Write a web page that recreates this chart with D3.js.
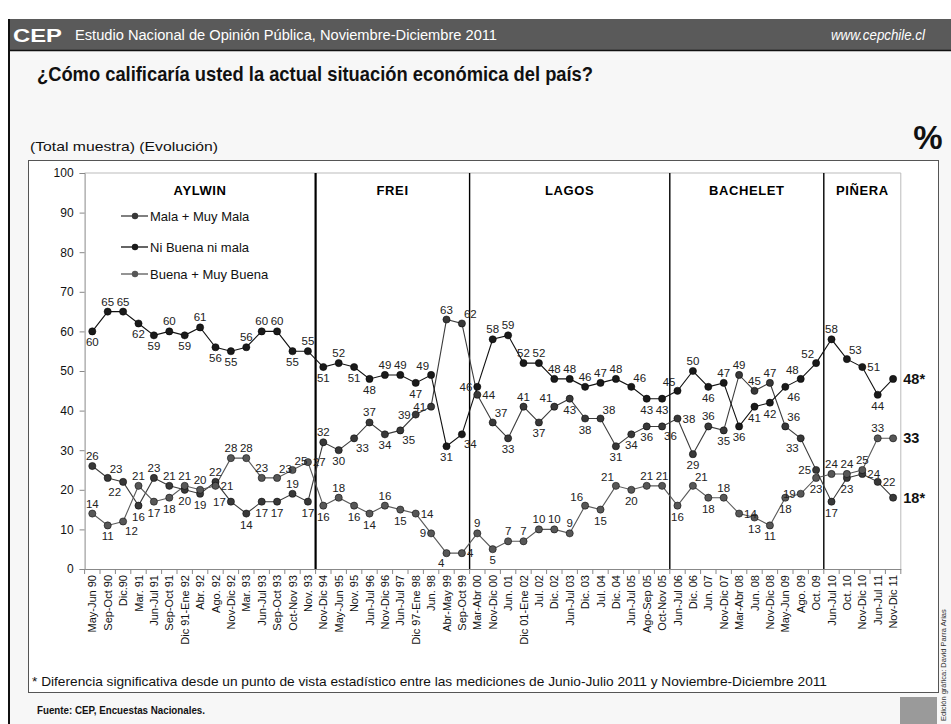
<!DOCTYPE html>
<html><head><meta charset="utf-8">
<script src="https://cdn.jsdelivr.net/npm/d3@7"></script>
<style>
body{margin:0;background:#fff;}
svg{display:block;font-family:"Liberation Sans",Arial,sans-serif;}
.narrow{font-family:"Liberation Sans Narrow","Arial Narrow","Liberation Sans",Arial,sans-serif;}
</style>
</head><body>
<svg id="c" width="951" height="724"></svg>
<script>
const categories = ["May-Jun 90","Sep-Oct 90","Dic.90","Mar. 91","Jun-Jul 91","Sep-Oct 91","Dic 91-Ene 92","Abr. 92","Ago. 92","Nov-Dic 92","Mar. 93","Jun-Jul 93","Sep-Oct 93","Oct-Nov 93","Nov. 93","Nov-Dic 94","May-Jun 95","Nov. 95","Jun-Jul 96","Nov-Dic 96","Jun-Jul 97","Dic 97-Ene 98","Jun. 98","Abr-May 99","Sep-Oct 99","Mar-Abr 00","Nov-Dic 00","Jun. 01","Dic 01-Ene 02","Jul. 02","Dic. 02","Jun-Jul 03","Dic. 03","Jul. 04","Dic. 04","Jun-Jul 05","Ago-Sep 05","Oct-Nov 05","Jun-Jul 06","Dic. 06","Jun. 07","Nov-Dic 07","Mar-Abr 08","Jun. 08","Nov-Dic 08","May-Jun 09","Ago. 09","Oct. 09","Jun-Jul 10","Oct. 10","Nov-Dic 10","Jun-Jul 11","Nov-Dic 11"];

const niBuenaNiMala = [60,65,65,62,59,60,59,61,56,55,56,60,60,55,55,51,52,51,48,49,49,47,49,31,34,46,58,59,52,52,48,48,46,47,48,46,43,43,45,50,46,47,36,41,42,46,48,52,58,53,51,44,48];
const malaMuyMala   = [26,23,22,16,23,21,20,19,22,17,14,17,17,19,17,32,30,33,37,34,35,39,41,63,62,44,37,33,41,37,41,43,38,38,31,34,36,36,38,29,36,35,49,45,47,36,33,25,17,23,24,22,18];
const buenaMuyBuena = [14,11,12,21,17,18,21,20,21,28,28,23,23,25,27,16,18,16,14,16,15,14,9,4,4,9,5,7,7,10,10,9,16,15,21,20,21,21,16,21,18,18,14,13,11,18,19,23,24,24,25,33,33];

const yTicks = [0,10,20,30,40,50,60,70,80,90,100];
const periods = ["AYLWIN","FREI","LAGOS","BACHELET","PIÑERA"];
const periodStarts = ["May-Jun 90","Nov-Dic 94","Mar-Abr 00","Jun-Jul 06","Jun-Jul 10"];
const seriesNames = ["Mala + Muy Mala","Ni Buena ni mala","Buena + Muy Buena"];
const endLabels = ["18*","48*","33"];

// label placement codes (t,b,l,r,tl,tr,bl,br, e = end label)
const posNi = "b t t b b t b t b b t t t b t b t b b t t b tl b br l t t t t t t t t t tr b b tl t b t b b b br tl tl t tr r b e".split(" ");
const posMala = "t tr bl b t t b b t l b b b t b t b br t b br l l t tr r tr b t b tl b b tr b b b br r b t b t t t tr bl l b b r r e".split(" ");
const posBuena = "t b br t b b t t r t t t tr tr r b t b b t b r l bl r t b t t t t t tl b tl b t t b tr b t r b b b l b t t t t e".split(" ");

const svg = d3.select("#c");
const W = 951, H = 724;

svg.append("rect").attr("x",0).attr("y",0).attr("width",W).attr("height",H).attr("fill","#ffffff");
svg.append("rect").attr("x",9).attr("y",19).attr("width",W-9).attr("height",H-19).attr("fill","#f7f7f7");
svg.append("rect").attr("x",9).attr("y",19).attr("width",W-9).attr("height",31).attr("fill","#5a5a5a");
svg.append("line").attr("x1",9).attr("x2",W).attr("y1",50.5).attr("y2",50.5).attr("stroke","#111").attr("stroke-width",1.5);
svg.append("line").attr("x1",9).attr("x2",9).attr("y1",19).attr("y2",H).attr("stroke","#111").attr("stroke-width",2);

function fitText(sel, w){ sel.attr("textLength", w).attr("lengthAdjust","spacingAndGlyphs"); return sel; }

fitText(svg.append("text").attr("x",13).attr("y",42).attr("fill","#fff").attr("font-weight","900").attr("font-size",19).text("CEP"),49);
fitText(svg.append("text").attr("class","narrow").attr("x",75).attr("y",40).attr("fill","#fff").attr("font-size",14).text("Estudio Nacional de Opinión Pública, Noviembre-Diciembre 2011"),422);
fitText(svg.append("text").attr("class","narrow").attr("x",831).attr("y",40).attr("fill","#fff").attr("font-size",14).attr("font-style","italic").text("www.cepchile.cl"),94);

fitText(svg.append("text").attr("class","narrow").attr("x",37).attr("y",81).attr("fill","#111").attr("font-weight","bold").attr("font-size",21).text("¿Cómo calificaría usted la actual situación económica del país?"),556);
fitText(svg.append("text").attr("class","narrow").attr("x",30).attr("y",151).attr("fill","#111").attr("font-size",13).text("(Total muestra) (Evolución)"),188);
svg.append("text").attr("x",928).attr("y",149).attr("fill","#111").attr("font-weight","bold").attr("font-size",33).attr("text-anchor","middle").text("%");

svg.append("rect").attr("x",28.5).attr("y",160.5).attr("width",910).attr("height",532).attr("fill","#fff").attr("stroke","#555").attr("stroke-width",1);

const x = d3.scaleBand().domain(categories).range([84.6, 900.8]).padding(0);
const bw = x.bandwidth();
const cx = c => x(c) + bw/2;
const y = d3.scaleLinear().domain([0,100]).range([569,173]);

svg.append("line").attr("x1",x.range()[0]).attr("x2",x.range()[1]).attr("y1",y(100)).attr("y2",y(100)).attr("stroke","#bbb");
svg.append("line").attr("x1",x.range()[1]).attr("x2",x.range()[1]).attr("y1",y(100)).attr("y2",y(0)).attr("stroke","#bbb");

const yAxis = svg.append("g").attr("transform",`translate(${x.range()[0]},0)`)
  .call(d3.axisLeft(y).tickValues(yTicks).tickSize(5).tickPadding(6));
yAxis.select(".domain").attr("stroke","#888");
yAxis.selectAll(".tick line").attr("stroke","#888");
yAxis.selectAll(".tick text").attr("font-size",12).attr("fill","#111").attr("font-family","Liberation Sans, Arial, sans-serif");

const xAxis = svg.append("g").attr("transform",`translate(0,${y(0)})`)
  .call(d3.axisBottom(x).tickSize(0).tickPadding(0));
xAxis.select(".domain").attr("stroke","#888");
xAxis.selectAll(".tick text")
  .attr("font-size",11).attr("fill","#111").attr("font-family","Liberation Sans, Arial, sans-serif")
  .attr("text-anchor","end").attr("transform","translate(4,6) rotate(-90)").attr("dy","0");
const edges = categories.map(c => x(c)).concat([x.range()[1]]);
svg.append("g").selectAll("line").data(edges).join("line")
  .attr("x1",d=>d).attr("x2",d=>d).attr("y1",y(0)).attr("y2",y(0)+5).attr("stroke","#888");

const bounds = periodStarts.map(c => x(c)).concat([x.range()[1]]);
periods.forEach((p,i)=>{
  if(i>0){
    svg.append("line").attr("x1",bounds[i]).attr("x2",bounds[i]).attr("y1",y(100)).attr("y2",y(0))
      .attr("stroke","#000").attr("stroke-width", i===1?2.2:1.4);
  }
  svg.append("text").attr("x",(bounds[i]+bounds[i+1])/2).attr("y",195).attr("text-anchor","middle")
    .attr("font-weight","900").attr("font-size",13).attr("letter-spacing",0.6).attr("fill","#000").text(p);
});

const series = [
  {name:seriesNames[0], values:malaMuyMala, pos:posMala, line:"#3c3c3c", mark:"#383838", end:endLabels[0]},
  {name:seriesNames[1], values:niBuenaNiMala, pos:posNi, line:"#111", mark:"#1a1a1a", end:endLabels[1]},
  {name:seriesNames[2], values:buenaMuyBuena, pos:posBuena, line:"#5a5a5a", mark:"#575757", end:endLabels[2]}
];

const lineGen = d3.line().x((d,i)=>cx(categories[i])).y(d=>y(d));
const off = {
  t:[0,-6,"middle"], b:[0,15,"middle"], l:[-5,4,"end"], r:[5,4,"start"],
  tl:[-2,-5,"end"], tr:[2,-5,"start"], bl:[-2,14,"end"], br:[2,14,"start"]
};
const gLines = svg.append("g"), gMarks = svg.append("g"), gLabels = svg.append("g");
series.forEach(s=>{
  gLines.append("path").datum(s.values).attr("d",lineGen).attr("fill","none").attr("stroke",s.line).attr("stroke-width",1.1);
  gMarks.selectAll(null).data(s.values).join("circle")
    .attr("cx",(d,i)=>cx(categories[i])).attr("cy",d=>y(d)).attr("r",3.6)
    .attr("fill",s.mark).attr("stroke","#000").attr("stroke-width",0.5);
  s.values.forEach((v,i)=>{
    const p = s.pos[i];
    if(p==="e"){
      gLabels.append("text").attr("x",x.range()[1]+2.5).attr("y",y(v)+5).attr("font-weight","bold").attr("font-size",14.5).attr("fill","#111").text(s.end);
      return;
    }
    const o = off[p];
    gLabels.append("text").attr("x",cx(categories[i])+o[0]).attr("y",y(v)+o[1]).attr("text-anchor",o[2])
      .attr("font-size",11.5).attr("fill","#222").text(v);
  });
});

const legY = [216, 247, 274];
[0,1,2].forEach((k,j)=>{
  const s = series[k];
  svg.append("line").attr("x1",121).attr("x2",148).attr("y1",legY[j]).attr("y2",legY[j]).attr("stroke",s.line).attr("stroke-width",1.3);
  svg.append("circle").attr("cx",135).attr("cy",legY[j]).attr("r",3.2).attr("fill",s.mark);
  svg.append("text").attr("x",150).attr("y",legY[j]+4.5).attr("font-size",13).attr("fill","#111").text(s.name);
});

fitText(svg.append("text").attr("class","narrow").attr("x",32).attr("y",686).attr("font-size",13).attr("fill","#111").text("* Diferencia significativa desde un punto de vista estadístico entre las mediciones de Junio-Julio 2011 y Noviembre-Diciembre 2011"),795);
fitText(svg.append("text").attr("class","narrow").attr("x",37).attr("y",714).attr("font-size",11).attr("font-weight","bold").attr("fill","#111").text("Fuente: CEP, Encuestas Nacionales."),168);
svg.append("rect").attr("x",900).attr("y",697).attr("width",37).attr("height",27).attr("fill","#9a9a9a");
svg.append("text").attr("transform","translate(946,721) rotate(-90)").attr("font-size",7.5).attr("fill","#333").text("Edición gráfica: David Parra Arias");
</script>
</body></html>
